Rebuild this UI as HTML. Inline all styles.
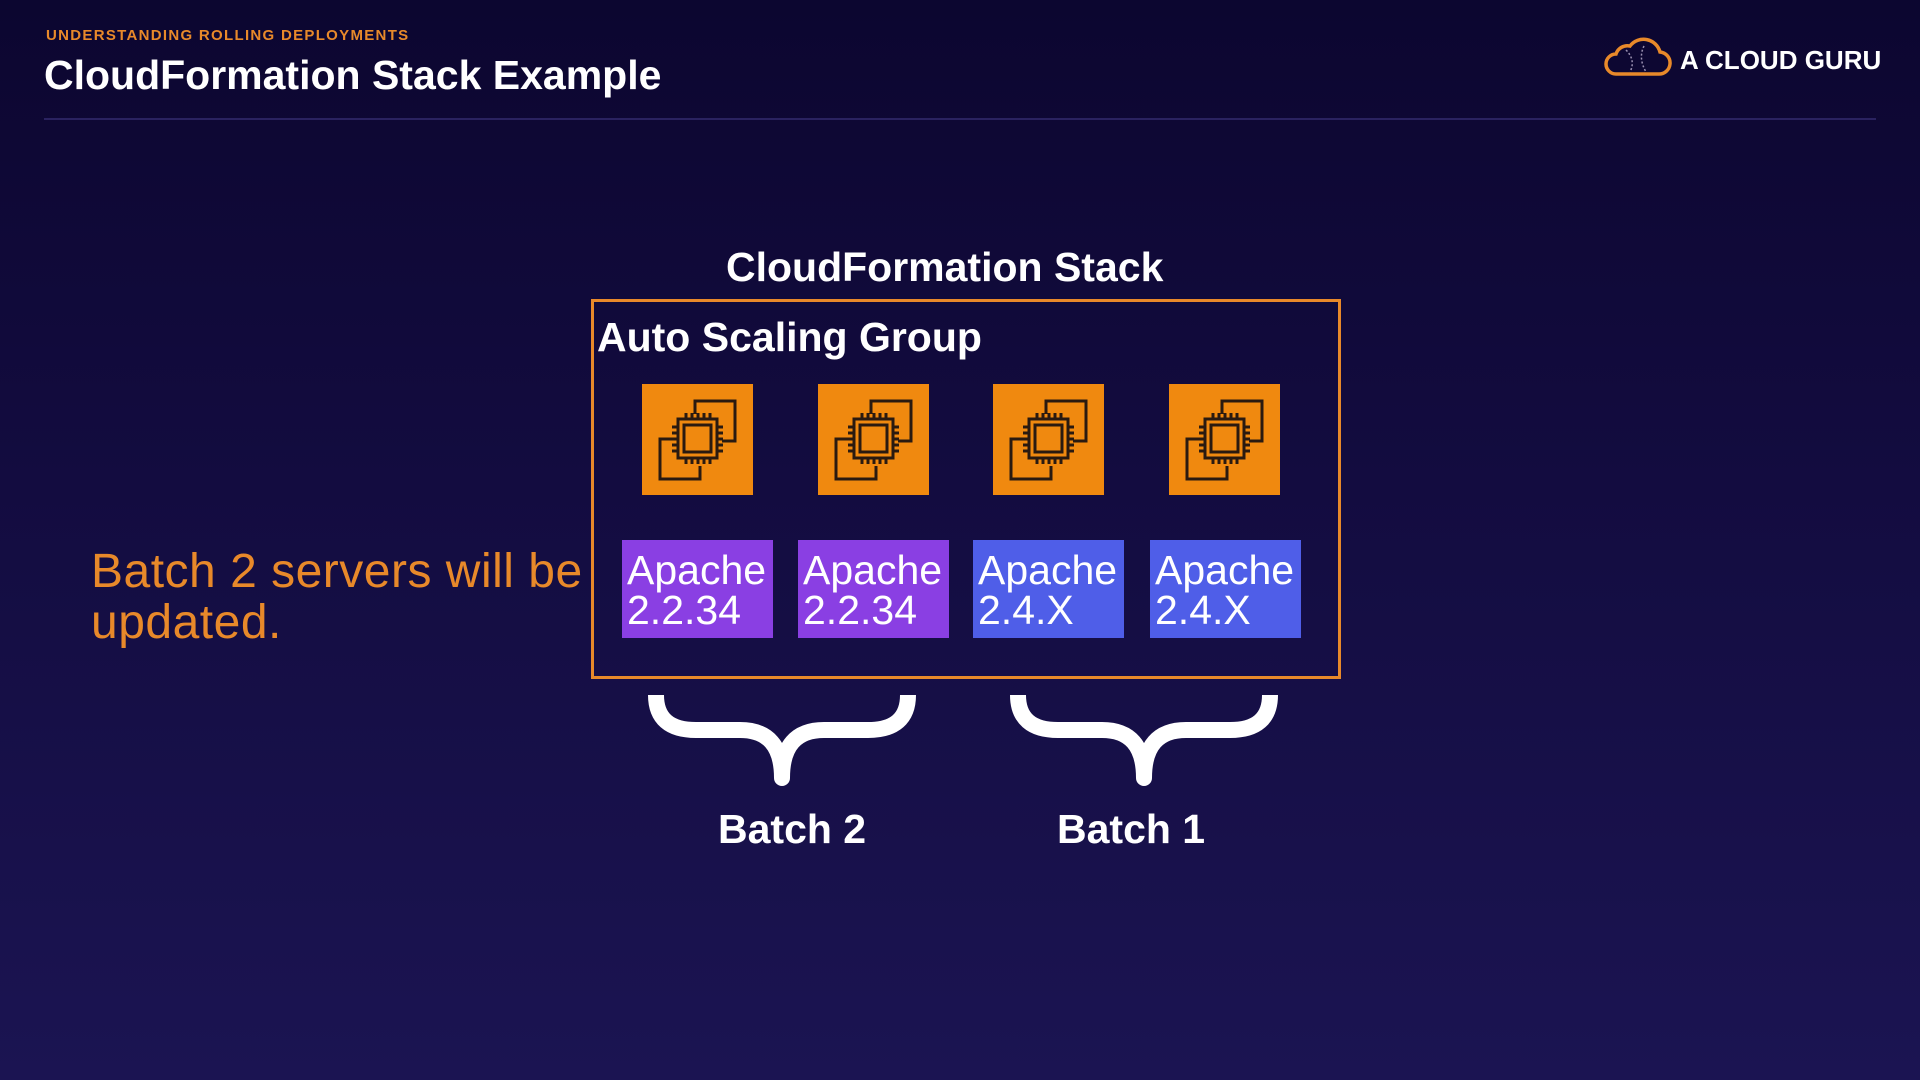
<!DOCTYPE html>
<html><head><meta charset="utf-8"><style>
*{margin:0;padding:0;box-sizing:border-box}
body{width:1920px;height:1080px;overflow:hidden;background:linear-gradient(180deg,#0c0630 0%,#130c40 45%,#1b1452 100%);font-family:"Liberation Sans",sans-serif;color:#fff;position:relative}
.a{position:absolute;white-space:nowrap}
.b{font-weight:bold;letter-spacing:0px}
.ec2{position:absolute;top:384px;width:111px;height:111px;background:#f0890f}
.ap{position:absolute;top:540px;width:151px;height:98px;font-size:41px;line-height:40px;padding:10px 0 0 5px;color:#fff;letter-spacing:0}
.p{background:#8a3fe3}.bl{background:#4f5ee8}
</style></head><body>
<div class="a" style="left:46px;top:27px;font-size:15px;font-weight:bold;color:#e8892a;letter-spacing:1.3px">UNDERSTANDING ROLLING DEPLOYMENTS</div>
<div class="a b" style="left:44px;top:52px;font-size:41px">CloudFormation Stack Example</div>
<div class="a" style="left:44px;top:118px;width:1832px;height:2px;background:#2a2260"></div>
<svg class="a" style="left:1602px;top:36px" width="70" height="42" viewBox="0 0 70 42"><path d="M14 38 H56 A11 11 0 0 0 58 16 A17 17 0 0 0 28 10 A12 12 0 0 0 14 18 A10 10 0 0 0 14 38 Z" fill="none" stroke="#e8892a" stroke-width="3.5"/><path d="M24 14 Q34 24 28 36 M42 10 Q36 22 44 36" fill="none" stroke="#9a90b0" stroke-width="1.5" stroke-dasharray="2 2"/></svg>
<div class="a" style="left:1680px;top:45px;font-size:26px;font-weight:bold">A CLOUD GURU</div>

<div class="a b" style="left:726px;top:244px;font-size:41px">CloudFormation Stack</div>
<div class="a" style="left:591px;top:299px;width:750px;height:380px;border:3px solid #e8892a"></div>
<div class="a b" style="left:597px;top:314px;font-size:41px">Auto Scaling Group</div>

<svg width="0" height="0" style="position:absolute"><defs><g id="chip" fill="none" stroke="#2a1a10" stroke-width="3"><path d="M53 30 V17 H93 V57 H80"/><path d="M58 82 V95 H18 V55 H31"/><rect x="36" y="35" width="39" height="39"/><rect x="42" y="41" width="27" height="27"/><path d="M44 29v6M50 29v6M56 29v6M62 29v6M68 29v6M44 74v6M50 74v6M56 74v6M62 74v6M68 74v6M30 43h6M30 49h6M30 55h6M30 61h6M30 67h6M75 43h6M75 49h6M75 55h6M75 61h6M75 67h6"/></g></defs></svg>
<div class="ec2" style="left:642px"><svg width="111" height="111"><use href="#chip"/></svg></div>
<div class="ec2" style="left:818px"><svg width="111" height="111"><use href="#chip"/></svg></div>
<div class="ec2" style="left:993px"><svg width="111" height="111"><use href="#chip"/></svg></div>
<div class="ec2" style="left:1169px"><svg width="111" height="111"><use href="#chip"/></svg></div>

<div class="ap p" style="left:622px">Apache<br>2.2.34</div>
<div class="ap p" style="left:798px">Apache<br>2.2.34</div>
<div class="ap bl" style="left:973px">Apache<br>2.4.X</div>
<div class="ap bl" style="left:1150px">Apache<br>2.4.X</div>

<div class="a" style="left:91px;top:546px;font-size:48px;line-height:51px;color:#e8892a;letter-spacing:0.5px">Batch 2 servers will be<br>updated.</div>

<svg class="a" style="left:640px;top:690px" width="660" height="100">
<g fill="none" stroke="#fff" stroke-width="16" stroke-linejoin="round">
<path d="M16 5 Q16 40 56 40 H100 Q142 40 142 88 Q142 40 184 40 H228 Q268 40 268 5"/>
<path d="M378 5 Q378 40 418 40 H462 Q504 40 504 88 Q504 40 546 40 H590 Q630 40 630 5"/>
</g></svg>
<div class="a b" style="left:718px;top:806px;font-size:41px">Batch 2</div>
<div class="a b" style="left:1057px;top:806px;font-size:41px">Batch 1</div>
</body></html>
